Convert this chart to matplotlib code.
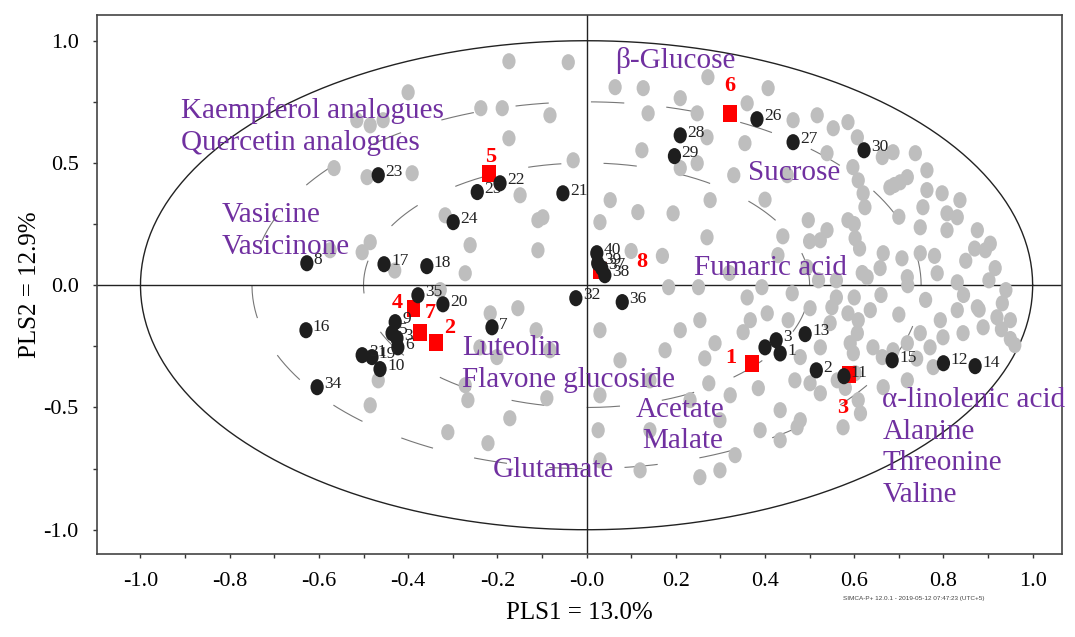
import numpy as np
import matplotlib
matplotlib.use("Agg")
import matplotlib.pyplot as plt
from matplotlib.markers import MarkerStyle
from matplotlib.transforms import Affine2D

# loadings of all bins (grey)
grey_x = [-0.174, -0.041, -0.400, -0.237, -0.189, -0.174, -0.082, -0.515, -0.485, -0.456,
          -0.566, -0.492, -0.391, -0.098, -0.485, -0.503, -0.272, -0.154, -0.216, -0.109,
          -0.109, -0.030, -0.272, -0.239, -0.201, 0.064, 0.127, 0.210, 0.138, 0.248,
          0.272, 0.360, 0.407, 0.355, 0.124, 0.270, 0.248, 0.210, 0.463, 0.517,
          0.553, 0.586, 0.607, 0.539, 0.687, 0.737, 0.663, 0.719, 0.703, 0.763,
          0.597, 0.609, 0.620, 0.624, 0.763, 0.797, 0.837, 0.754, 0.808, 0.748,
          0.808, 0.876, 0.831, 0.053, 0.115, 0.194, 0.277, 0.030, 0.270, 0.497,
          0.586, 0.539, 0.524, 0.602, 0.665, 0.707, 0.748, 0.916, 0.831, 0.786,
          0.719, 0.658, 0.629, 0.429, 0.494, 0.461, 0.251, 0.184, 0.393, 0.288,
          0.351, 0.367, 0.405, 0.452, 0.501, 0.550, 0.546, 0.586, 0.609, 0.636,
          0.607, 0.591, 0.598, 0.642, 0.663, 0.687, 0.719, 0.748, 0.770, 0.799,
          0.844, 0.889, 0.920, 0.793, 0.831, 0.876, 0.932, 0.524, 0.479, 0.467,
          0.501, 0.524, 0.562, 0.609, 0.614, 0.575, 0.479, 0.472, 0.665, 0.719,
          0.777, 0.385, 0.274, 0.254, -0.467, -0.485, -0.266, -0.311, -0.221, -0.172,
          -0.089, 0.026, -0.113, -0.082, 0.030, 0.075, 0.030, 0.142, 0.210, 0.176,
          0.254, 0.265, 0.232, 0.142, 0.299, 0.333, 0.299, 0.030, 0.120, 0.389,
          0.434, 0.434, 0.322, -0.261, -0.317, -0.149, -0.328, -0.430, -0.575, 0.894,
          0.950, 0.960, 0.905, 0.690, 0.560, 0.845, 0.870, 0.940,
          0.600, 0.612, 0.618, 0.600, 0.580, 0.602, 0.930, 0.950, 0.880, 0.902,
          0.850, 0.780, 0.700, 0.680, 0.720, 0.660, 0.760, 0.700, 0.740, 0.560,
          0.520, 0.500, 0.440, 0.400, 0.330, 0.450, 0.170, 0.100, 0.320, 0.360]
grey_y = [0.916, 0.912, 0.789, 0.724, 0.724, 0.601, 0.695, 0.675, 0.654, 0.675,
          0.479, 0.442, 0.458, 0.278, 0.176, 0.135, 0.049, -0.094, -0.115, 0.266,
          0.143, 0.511, -0.409, -0.254, -0.294, 0.810, 0.806, 0.765, 0.703, 0.703,
          0.851, 0.744, 0.806, 0.581, 0.552, 0.605, 0.499, 0.479, 0.675, 0.695,
          0.642, 0.667, 0.605, 0.540, 0.544, 0.540, 0.524, 0.442, 0.421, 0.470,
          0.483, 0.429, 0.376, 0.319, 0.389, 0.376, 0.348, 0.319, 0.294, 0.237,
          0.225, 0.225, 0.278, 0.348, 0.299, 0.294, 0.348, 0.258, 0.196, 0.266,
          0.266, 0.225, 0.184, 0.192, 0.131, 0.110, 0.131, 0.070, 0.012, 0.049,
          0.033, 0.070, 0.033, 0.123, 0.074, -0.033, -0.008, -0.008, -0.008, -0.237,
          -0.192, -0.143, -0.115, -0.143, -0.094, -0.090, -0.155, -0.115, -0.143, -0.102,
          -0.196, -0.237, -0.278, -0.254, -0.294, -0.266, -0.237, -0.196, -0.254, -0.213,
          -0.196, -0.172, -0.131, -0.143, -0.102, -0.090, -0.074, -0.254, -0.294, -0.389,
          -0.401, -0.442, -0.389, -0.470, -0.524, -0.581, -0.552, -0.581, -0.417, -0.389,
          -0.335, -0.421, -0.401, -0.785, -0.389, -0.491, -0.470, -0.601, -0.646, -0.544,
          -0.462, -0.593, -0.184, -0.266, -0.184, -0.307, -0.450, -0.389, -0.184, -0.266,
          -0.143, -0.299, -0.470, -0.593, -0.552, -0.695, -0.757, -0.716, -0.757, -0.593,
          -0.634, -0.511, -0.450, 0.164, 0.286, 0.368, -0.020, 0.060, 0.143, 0.143,
          -0.143, -0.245, 0.170, 0.410, 0.020, -0.040, 0.150, -0.020,
          0.250, 0.150, 0.050, -0.050, -0.420, -0.360, -0.180, -0.220, -0.100, 0.020,
          0.100, 0.120, 0.280, 0.400, 0.000, -0.040, -0.060, -0.120, -0.300, -0.050,
          0.020, 0.180, 0.200, 0.350, 0.450, 0.450, 0.120, 0.140, 0.050, -0.050]

# sample scores (black, numbered)
sample_labels = ["23", "22", "25", "24", "21", "8", "17", "18", "35", "20",
                 "16", "7", "9", "5", "3", "6", "31", "19", "10", "34",
                 "40", "39", "37", "38", "32", "36", "28", "29", "26", "27",
                 "30", "13", "", "3", "1", "2", "11", "15", "12", "14"]
sample_x = [-0.467, -0.194, -0.245, -0.299, -0.053, -0.627, -0.454, -0.358, -0.378, -0.322,
            -0.629, -0.212, -0.429, -0.436, -0.425, -0.423, -0.503, -0.481, -0.463, -0.604,
            0.023, 0.025, 0.034, 0.041, -0.024, 0.080, 0.210, 0.197, 0.382, 0.463,
            0.622, 0.490, 0.400, 0.425, 0.434, 0.515, 0.577, 0.685, 0.800, 0.871]
sample_y = [0.450, 0.417, 0.381, 0.258, 0.376, 0.090, 0.086, 0.078, -0.041, -0.078,
            -0.184, -0.172, -0.151, -0.196, -0.217, -0.254, -0.286, -0.294, -0.343, -0.417,
            0.131, 0.090, 0.070, 0.041, -0.053, -0.069, 0.613, 0.528, 0.679, 0.585,
            0.552, -0.200, -0.254, -0.225, -0.279, -0.348, -0.372, -0.307, -0.319, -0.331]

# class centroids (red squares)
class_labels = ["1", "2", "3", "4", "5", "6", "7", "8"]
class_x = [0.371, -0.337, 0.589, -0.388, -0.219, 0.322, -0.373, 0.030]
class_y = [-0.319, -0.233, -0.364, -0.094, 0.458, 0.703, -0.192, 0.061]
class_offsets = [(-15, 4), (10, 10), (-5, -24), (-12, 4), (1, 12), (0, 20), (7, 14), (30, 6)]

# metabolite annotations
metabolites = ["β-Glucose", "Kaempferol analogues", "Quercetin analogues", "Vasicine",
               "Vasicinone", "Sucrose", "Fumaric acid", "Luteolin", "Flavone glucoside",
               "Acetate", "Malate", "Glutamate", "α-linolenic acid", "Alanine",
               "Threonine", "Valine"]
metab_pos = [(0.064, 0.920), (-0.909, 0.716), (-0.909, 0.581), (-0.817, 0.286),
             (-0.817, 0.155), (0.362, 0.458), (0.241, 0.070), (-0.279, -0.258),
             (-0.279, -0.389), (0.111, -0.511), (0.124, -0.638), (-0.210, -0.757),
             (0.663, -0.470), (0.663, -0.601), (0.663, -0.728), (0.663, -0.859)]

serif = "Liberation Serif"
purple = "#7030A0"

fig = plt.figure(figsize=(10.75, 6.37), dpi=100)
ax = fig.add_axes([0.090, 0.130, 0.898, 0.846])

# Hotelling circle and the 50% / 75% circles
t = np.linspace(0, 2 * np.pi, 400)
ax.plot(np.cos(t), np.sin(t), color="#222222", lw=1.0, zorder=1)
for r in (0.5, 0.75):
    ax.plot(r * np.cos(t), r * np.sin(t), color="#777777", lw=0.8,
            dashes=(30, 38), zorder=1)

ax.axhline(0, color="#222222", lw=1.0, zorder=1)
ax.axvline(0, color="#222222", lw=1.0, zorder=1)

squash = Affine2D().scale(0.82, 1.0)
ax.scatter(grey_x, grey_y, s=135, marker=MarkerStyle("o", transform=squash),
           color="#BEBEBE", edgecolors="none", zorder=2)
ax.scatter(class_x, class_y, s=150, marker=MarkerStyle("s", transform=squash),
           color="#FF0000", edgecolors="none", zorder=3)
ax.scatter(sample_x, sample_y, s=135, marker=MarkerStyle("o", transform=squash),
           color="#1E1E1E", edgecolors="none", zorder=4)

for lab, x, y in zip(sample_labels, sample_x, sample_y):
    ax.annotate(lab, (x, y), xytext=(5, 2), textcoords="offset points",
                ha="left", va="center", fontsize=12.5, family=serif,
                color="#222222", zorder=5)

for lab, x, y, off in zip(class_labels, class_x, class_y, class_offsets):
    ax.annotate(lab, (x, y), xytext=off, textcoords="offset points",
                ha="center", va="center", fontsize=16, fontweight="bold",
                family=serif, color="#FF0000", zorder=6)

for name, (x, y) in zip(metabolites, metab_pos):
    ax.text(x, y, name, ha="left", va="center", fontsize=21, family=serif,
            color=purple, zorder=6)

ax.set_xlim(-1.098, 1.066)
ax.set_ylim(-1.100, 1.104)

xt = np.round(np.arange(-1.0, 1.01, 0.1), 2)
ax.set_xticks(xt)
ax.set_xticklabels([("-0.0" if abs(v) < 1e-9 else f"{v:.1f}") if i % 2 == 0 else ""
                    for i, v in enumerate(xt)])
yt = np.arange(-1.0, 1.01, 0.25)
ax.set_yticks(yt)
ax.set_yticklabels([f"{v:.1f}" if i % 2 == 0 else "" for i, v in enumerate(yt)])
ax.tick_params(direction="out", length=3, width=1, color="#333333",
               labelsize=16, pad=10)
for lbl in ax.get_xticklabels() + ax.get_yticklabels():
    lbl.set_family(serif)

for sp in ax.spines.values():
    sp.set_color("#444444")
    sp.set_linewidth(1.2)

ax.set_xlabel("PLS1 = 13.0%", fontsize=18, family=serif, labelpad=8)
ax.set_ylabel("PLS2 = 12.9%", fontsize=18, family=serif, labelpad=2)

fig.text(0.850, 0.061, "SIMCA-P+ 12.0.1 - 2019-05-12 07:47:23 (UTC+5)",
         fontsize=4.6, color="#444444", ha="center", va="center",
         family="Liberation Sans")

fig.savefig("out.png", dpi=100)
